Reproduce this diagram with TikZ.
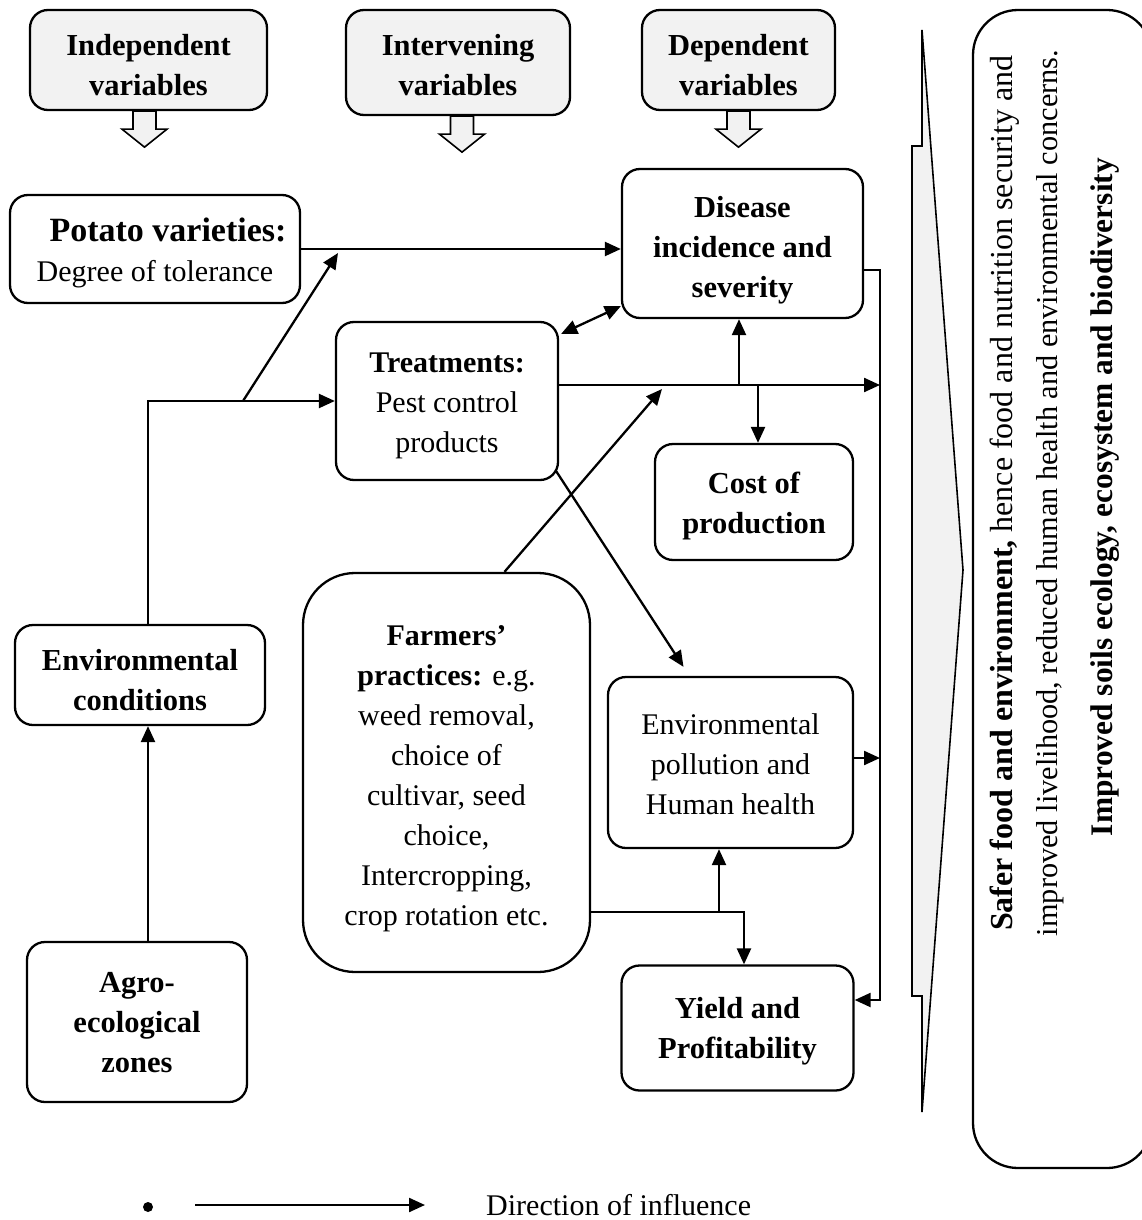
\documentclass[tikz,border=0pt]{standalone}
\usepackage{fontspec}
\setmainfont{Liberation Serif}
\usetikzlibrary{arrows.meta,calc}
\definecolor{hgray}{HTML}{F2F2F2}
\begin{document}
\begin{tikzpicture}[x=1pt,y=-1pt,
  box/.style={draw, line width=2.3pt, rounded corners=18pt, inner sep=0pt},
  hdr/.style={box, fill=hgray},
  txt/.style={align=center, inner sep=0pt, font=\fontsize{30}{40}\selectfont},
  btxt/.style={txt, font=\fontsize{30.5}{40}\selectfont\bfseries},
  conn/.style={line width=2.3pt, -{Triangle[length=16pt,width=14pt]}},
  dconn/.style={line width=2.3pt, {Triangle[length=16pt,width=14pt]}-{Triangle[length=16pt,width=14pt]}},
  blk/.style={draw, line width=1.6pt, fill=hgray, line join=miter}]

\useasboundingbox (0,0) rectangle (1142,1220);

% header boxes
\node[hdr, minimum width=237pt, minimum height=100pt] (ind) at (148.5,60) {};
\node[btxt] (indt) at ($(ind.center)+(0,5)$) {Independent\\variables};
\node[hdr, minimum width=224pt, minimum height=105pt] (inter) at (458,62.5) {};
\node[btxt] (intert) at ($(inter.center)+(0,3)$) {Intervening\\variables};
\node[hdr, minimum width=193pt, minimum height=100pt] (dep) at (738.5,60) {};
\node[btxt] (dept) at ($(dep.center)+(0,5)$) {Dependent\\variables};

% block arrows under headers
\draw[blk] ($(ind.south)+(-15.5,0)$) -- ++(23,0) -- ++(0,18) -- ++(11,0) -- ++(-22.5,18) -- ++(-22.5,-18) -- ++(11,0) -- cycle;
\draw[blk] ($(inter.south)+(-7.5,0)$) -- ++(23,0) -- ++(0,18) -- ++(11,0) -- ++(-22.5,18) -- ++(-22.5,-18) -- ++(11,0) -- cycle;
\draw[blk] ($(dep.south)+(-11.5,0)$) -- ++(23,0) -- ++(0,18) -- ++(11,0) -- ++(-22.5,18) -- ++(-22.5,-18) -- ++(11,0) -- cycle;

% main boxes
\node[box, minimum width=290pt, minimum height=108pt] (pot) at (155,249) {};
\node[txt] (pott) at ($(pot.center)+(0,4)$) {\hspace*{26pt}{\fontsize{34}{40}\selectfont\bfseries Potato varieties:}\\Degree of tolerance};
\node[box, minimum width=241pt, minimum height=149pt] (dis) at (742.5,243.5) {};
\node[btxt] (dist) at ($(dis.center)+(0,7)$) {Disease\\incidence and\\severity};
\node[box, minimum width=222pt, minimum height=158pt] (trt) at (447,401) {};
\node[txt] (trtt) at ($(trt.center)+(0,5)$) {\textbf{Treatments:}\\Pest control\\products};
\node[box, minimum width=198pt, minimum height=116pt] (cost) at (754,502) {};
\node[btxt] (costt) at ($(cost.center)+(0,4)$) {Cost of\\production};
\node[box, minimum width=250pt, minimum height=100pt] (envc) at (140,675) {};
\node[btxt] (envct) at ($(envc.center)+(0,5)$) {Environmental\\conditions};
\node[box, rounded corners=52pt, minimum width=287pt, minimum height=399pt] (farm) at (446.5,772.5) {};
\node[txt] (farmt) at ($(farm.center)+(0,6)$) {\textbf{Farmers’}\\\textbf{practices:} e.g.\\weed removal,\\choice of\\cultivar, seed\\choice,\\Intercropping,\\crop rotation etc.};
\node[box, minimum width=245pt, minimum height=171pt] (envp) at (730.5,762.5) {};
\node[txt] (envpt) at ($(envp.center)+(0,2)$) {Environmental\\pollution and\\Human health};
\node[box, minimum width=220pt, minimum height=160pt] (agro) at (137,1022) {};
\node[btxt] (agrot) at ($(agro.center)+(0,1)$) {Agro-\\ecological\\zones};
\node[box, minimum width=232pt, minimum height=125pt] (yield) at (737.5,1028) {};
\node[btxt] (yieldt) at ($(yield.center)+(0,3)$) {Yield and\\Profitability};

% outcome box
\node[box, rounded corners=45pt, minimum width=179pt, minimum height=1158pt] (outc) at (1062.5,589) {};
\node[rotate=90, txt, font=\fontsize{32}{40}\selectfont] (o1) at (1005,493) {\textbf{Safer food and environment,} hence food and nutrition security and};
\node[rotate=90, txt, font=\fontsize{30.3}{40}\selectfont] (o2) at (1050,493) {improved livelihood, reduced human health and environmental concerns.};
\node[rotate=90, txt, font=\fontsize{31.4}{40}\selectfont\bfseries] (o3) at (1105,497) {Improved soils ecology, ecosystem and biodiversity};

% big right arrow
\draw[blk] (922,30) -- (922,146) -- (912,146) -- (912,996) -- (922,996) -- (922,1112) -- (963,570) -- cycle;

% connectors
\draw[conn] (pot.east) -- (pot.east -| dis.west);
\draw[conn] ([xshift=8pt]envc.north) |- (trt.west);
\coordinate (j1) at (243,401);
\coordinate (pd) at (338,253);
\draw[conn] (j1) -- (pd);
\draw[conn] ([xshift=11pt]agro.north) -- ([xshift=11pt]agro.north |- envc.south);
\draw[dconn] ($(trt.north east)+(2,13)$) -- ($(dis.south west)+(0,-13)$);
\coordinate (h1) at (880,385);
\draw[conn] (trt.east |- h1) -- (h1);
\coordinate (j2) at (739,385);
\draw[conn] (j2) -- (j2 |- dis.south);
\coordinate (j3) at (758,385);
\draw[conn] (j3) -- (j3 |- cost.north);
\coordinate (j4) at (662,389);
\draw[conn] ($(farm.north)+(58,0)$) -- (j4);
\draw[conn] ($(trt.south east)+(-3,-10)$) -- ($(envp.north)+(-47,-9)$);
\coordinate (c2) at (880,270);
\coordinate (c3) at (880,1000);
\draw[conn] (dis.east |- c2) -- (c2) -- (c3) -- (c3 -| yield.east);
\coordinate (c4) at (880,758);
\draw[conn] (envp.east |- c4) -- (c4);
\coordinate (f1) at (719,912);
\coordinate (f2) at (744,912);
\draw[conn] (farm.east |- f1) -- (f2) -- (f2 |- yield.north);
\draw[conn] (f1) -- (f1 |- envp.south);

% legend
\node[circle, fill, inner sep=0pt, minimum size=10pt] (dot) at (148,1207) {};
\coordinate (l1) at (195,1205);
\coordinate (l2) at (425,1205);
\draw[conn] (l1) -- (l2);
\node[txt, anchor=west] (leg) at (486,1205) {Direction of influence};
\end{tikzpicture}
\end{document}
